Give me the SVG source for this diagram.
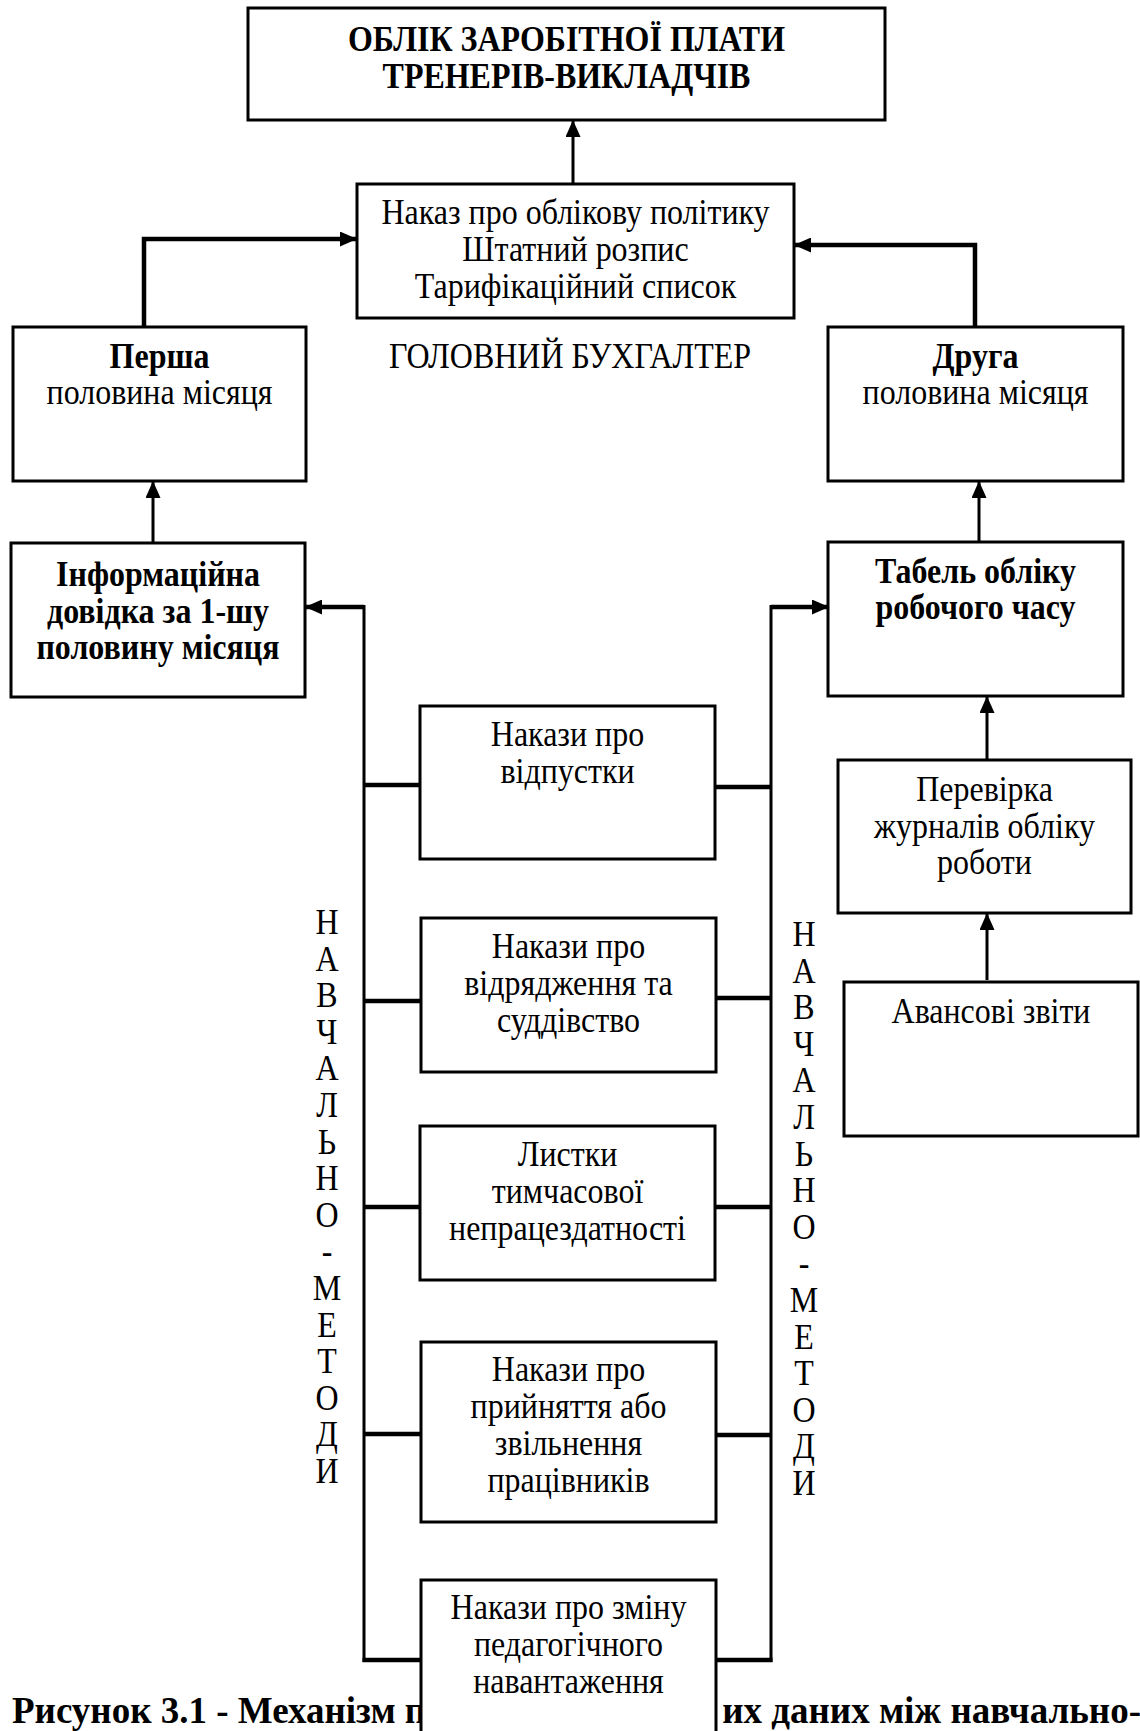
<svg xmlns="http://www.w3.org/2000/svg" width="1140" height="1731" viewBox="0 0 1140 1731">
<defs>
<style>
.box{fill:#fff;stroke:#000;stroke-width:3}
.t{font-family:"Liberation Serif","Times New Roman",serif;font-size:35px;fill:#000;text-anchor:middle}
.b{font-weight:bold}
.cap{font-family:"Liberation Serif","Times New Roman",serif;font-size:37px;font-weight:bold;fill:#000}
.ln{fill:none;stroke:#000;stroke-width:3}
.thk{fill:none;stroke:#000;stroke-width:4.5}
</style>
<marker id="ah" markerUnits="userSpaceOnUse" markerWidth="17" markerHeight="15" refX="16" refY="7.5" orient="auto">
<path d="M0,0 L17,7.5 L0,15 z" fill="#000"/>
</marker>
</defs>
<rect width="1140" height="1731" fill="#fff"/>

<g id="caption">
<text class="cap" x="12" y="1723">Рисунок 3.1 - Механізм п</text>
<text class="cap" x="1141" y="1723" text-anchor="end">их даних між навчально-</text>
</g>

<g id="connectors">
<line class="ln" x1="573" y1="184" x2="573" y2="121" marker-end="url(#ah)"/>
<polyline class="thk" points="144,327 144,239 356,239" marker-end="url(#ah)"/>
<polyline class="thk" points="975,327 975,245 795,245" marker-end="url(#ah)"/>
<line class="ln" x1="153" y1="543" x2="153" y2="482" marker-end="url(#ah)"/>
<line class="ln" x1="979" y1="542" x2="979" y2="482" marker-end="url(#ah)"/>
<line class="ln" x1="987" y1="760" x2="987" y2="697" marker-end="url(#ah)"/>
<line class="ln" x1="987" y1="980" x2="987" y2="914" marker-end="url(#ah)"/>
<line class="ln" x1="364" y1="605" x2="364" y2="1662"/>
<line class="ln" x1="771" y1="605" x2="771" y2="1662"/>
<polyline class="thk" points="364,607 306,607" marker-end="url(#ah)"/>
<polyline class="thk" points="771,607 828,607" marker-end="url(#ah)"/>
<line class="thk" x1="364" y1="785" x2="420" y2="785"/>
<line class="thk" x1="364" y1="1001" x2="421" y2="1001"/>
<line class="thk" x1="364" y1="1207" x2="420" y2="1207"/>
<line class="thk" x1="364" y1="1434" x2="421" y2="1434"/>
<line class="thk" x1="362.5" y1="1660" x2="421" y2="1660"/>
<line class="thk" x1="715" y1="787" x2="771" y2="787"/>
<line class="thk" x1="716" y1="998" x2="771" y2="998"/>
<line class="thk" x1="715" y1="1207" x2="771" y2="1207"/>
<line class="thk" x1="716" y1="1435" x2="771" y2="1435"/>
<line class="thk" x1="716" y1="1660" x2="772.5" y2="1660"/>
</g>

<g id="n_title">
<rect class="box" x="248" y="8" width="637" height="112"/>
<g transform="translate(566.5,0) scale(0.914,1)">
<text class="t b" x="0" y="51">ОБЛІК ЗАРОБІТНОЇ ПЛАТИ</text>
<text class="t b" x="0" y="88">ТРЕНЕРІВ-ВИКЛАДЧІВ</text>
</g>
</g>

<g id="n_center">
<rect class="box" x="357" y="184" width="437" height="134"/>
<g transform="translate(575.5,0) scale(0.914,1)">
<text class="t" x="0" y="224">Наказ про облікову політику</text>
<text class="t" x="0" y="261">Штатний розпис</text>
<text class="t" x="0" y="298">Тарифікаційний список</text>
</g>
</g>

<g id="n_first">
<rect class="box" x="13" y="327" width="293" height="154"/>
<g transform="translate(159.5,0) scale(0.914,1)">
<text class="t b" x="0" y="368">Перша</text>
<text class="t" x="0" y="404">половина місяця</text>
</g>
</g>

<g id="label_chief">
<g transform="translate(570,0) scale(0.914,1)">
<text class="t" x="0" y="368">ГОЛОВНИЙ БУХГАЛТЕР</text>
</g>
</g>

<g id="n_second">
<rect class="box" x="828" y="327" width="295" height="154"/>
<g transform="translate(975.5,0) scale(0.914,1)">
<text class="t b" x="0" y="368">Друга</text>
<text class="t" x="0" y="404">половина місяця</text>
</g>
</g>

<g id="n_info">
<rect class="box" x="11" y="543" width="294" height="154"/>
<g transform="translate(158,0) scale(0.914,1)">
<text class="t b" x="0" y="586">Інформаційна</text>
<text class="t b" x="0" y="623">довідка за 1-шу</text>
<text class="t b" x="0" y="659">половину місяця</text>
</g>
</g>

<g id="n_tabel">
<rect class="box" x="828" y="542" width="295" height="154"/>
<g transform="translate(975.5,0) scale(0.914,1)">
<text class="t b" x="0" y="583">Табель обліку</text>
<text class="t b" x="0" y="619">робочого часу</text>
</g>
</g>

<g id="n_vidpustky">
<rect class="box" x="420" y="706" width="295" height="153"/>
<g transform="translate(567.5,0) scale(0.914,1)">
<text class="t" x="0" y="746">Накази про</text>
<text class="t" x="0" y="783">відпустки</text>
</g>
</g>

<g id="n_perevirka">
<rect class="box" x="838" y="760" width="293" height="153"/>
<g transform="translate(984.5,0) scale(0.914,1)">
<text class="t" x="0" y="801">Перевірка</text>
<text class="t" x="0" y="838">журналів обліку</text>
<text class="t" x="0" y="874">роботи</text>
</g>
</g>

<g id="n_vidryadzhennia">
<rect class="box" x="421" y="918" width="295" height="154"/>
<g transform="translate(568.5,0) scale(0.914,1)">
<text class="t" x="0" y="958">Накази про</text>
<text class="t" x="0" y="995">відрядження та</text>
<text class="t" x="0" y="1032">суддівство</text>
</g>
</g>

<g id="n_avans">
<rect class="box" x="844" y="982" width="294" height="154"/>
<g transform="translate(991,0) scale(0.914,1)">
<text class="t" x="0" y="1023">Авансові звіти</text>
</g>
</g>

<g id="n_lystky">
<rect class="box" x="420" y="1126" width="295" height="154"/>
<g transform="translate(567.5,0) scale(0.914,1)">
<text class="t" x="0" y="1166">Листки</text>
<text class="t" x="0" y="1203">тимчасової</text>
<text class="t" x="0" y="1240">непрацездатності</text>
</g>
</g>

<g id="n_pryiniattia">
<rect class="box" x="421" y="1342" width="295" height="180"/>
<g transform="translate(568.5,0) scale(0.914,1)">
<text class="t" x="0" y="1381">Накази про</text>
<text class="t" x="0" y="1418">прийняття або</text>
<text class="t" x="0" y="1455">звільнення</text>
<text class="t" x="0" y="1492">працівників</text>
</g>
</g>

<g id="n_zminu">
<rect class="box" x="421" y="1580" width="295" height="200"/>
<g transform="translate(568.5,0) scale(0.914,1)">
<text class="t" x="0" y="1619">Накази про зміну</text>
<text class="t" x="0" y="1656">педагогічного</text>
<text class="t" x="0" y="1693">навантаження</text>
</g>
</g>

<g id="label_left_vertical">
<g transform="translate(327,0) scale(0.914,1)">
<text class="t" x="0" y="934">Н<tspan x="0" dy="36.6">А</tspan><tspan x="0" dy="36.6">В</tspan><tspan x="0" dy="36.6">Ч</tspan><tspan x="0" dy="36.6">А</tspan><tspan x="0" dy="36.6">Л</tspan><tspan x="0" dy="36.6">Ь</tspan><tspan x="0" dy="36.6">Н</tspan><tspan x="0" dy="36.6">О</tspan><tspan x="0" dy="36.6">-</tspan><tspan x="0" dy="36.6">М</tspan><tspan x="0" dy="36.6">Е</tspan><tspan x="0" dy="36.6">Т</tspan><tspan x="0" dy="36.6">О</tspan><tspan x="0" dy="36.6">Д</tspan><tspan x="0" dy="36.6">И</tspan></text>
</g>
</g>

<g id="label_right_vertical">
<g transform="translate(804,0) scale(0.914,1)">
<text class="t" x="0" y="946">Н<tspan x="0" dy="36.6">А</tspan><tspan x="0" dy="36.6">В</tspan><tspan x="0" dy="36.6">Ч</tspan><tspan x="0" dy="36.6">А</tspan><tspan x="0" dy="36.6">Л</tspan><tspan x="0" dy="36.6">Ь</tspan><tspan x="0" dy="36.6">Н</tspan><tspan x="0" dy="36.6">О</tspan><tspan x="0" dy="36.6">-</tspan><tspan x="0" dy="36.6">М</tspan><tspan x="0" dy="36.6">Е</tspan><tspan x="0" dy="36.6">Т</tspan><tspan x="0" dy="36.6">О</tspan><tspan x="0" dy="36.6">Д</tspan><tspan x="0" dy="36.6">И</tspan></text>
</g>
</g>
</svg>
